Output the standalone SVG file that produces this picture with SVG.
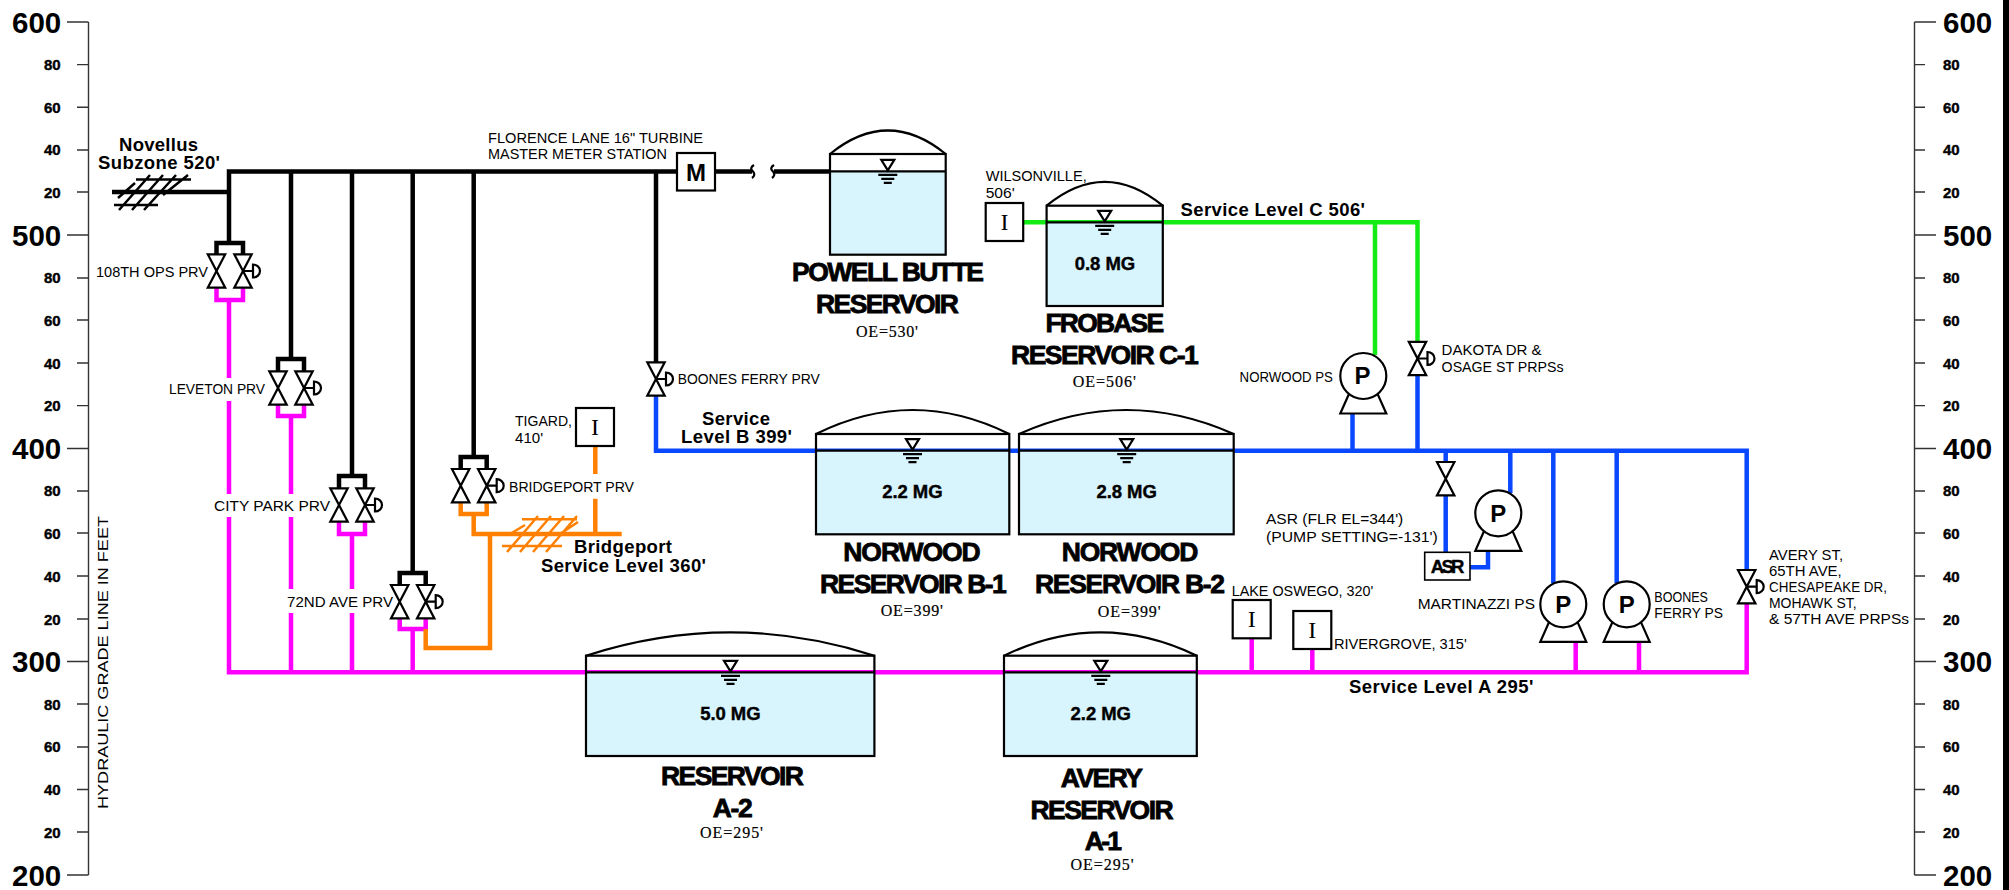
<svg xmlns="http://www.w3.org/2000/svg" width="2009" height="890" viewBox="0 0 2009 890">
<style>
text{font-family:"Liberation Sans",Arial,sans-serif;fill:#000}
.l{font-size:15px}
.h{font-size:18.5px;font-weight:bold}
.mg{font-size:18.5px;font-weight:bold;stroke:#000;stroke-width:.4px}
.n{font-size:26.5px;font-weight:bold;stroke:#000;stroke-width:.8px}
.oe{font-family:"Liberation Serif",serif;font-size:16px;stroke:#000;stroke-width:.2px}
.big{font-size:29.5px;font-weight:bold}
.sm{font-size:15px;font-weight:bold;stroke:#000;stroke-width:.4px}
.iglyph{font-family:"Liberation Serif",serif;font-size:24px;text-anchor:middle}
.p{font-size:24px;font-weight:bold;text-anchor:middle}
.pipe{fill:none;stroke-width:4.5;stroke-linejoin:miter}
.k{stroke:#000}.m{stroke:#ff00ff}.o{stroke:#ff8000}.g{stroke:#14ea14}.b{stroke:#0a48ff}
.hatch{fill:none;stroke-width:2.5}
.ax{fill:none;stroke:#333;stroke-width:1.4}
.sym{fill:#fff;stroke:#000;stroke-width:2.2;stroke-linejoin:miter}
.thin{fill:none;stroke:#000;stroke-width:2.2}
.water{fill:#d8f4fd;stroke:none}
</style>
<defs>
<g id="valve"><path class="sym" d="M-8.7,-16.7H8.7L-8.7,16.7H8.7Z"/></g>
<g id="act"><path class="thin" d="M0,0H10M10,-6.5A7,6.5 0 0 1 10,6.5Z"/></g>
<g id="pump"><path class="sym" d="M-13,15L-23,37.5H23L13,15Z"/><circle class="sym" r="23"/></g>
<g id="wl"><path class="sym" d="M-6.5,-11.5H6.5L0,-1Z"/><path class="thin" d="M-9.5,3.500H9.500M-6.500,7.500H6.500M-4,11.500H4"/></g>
</defs>
<rect width="2009" height="890" fill="#fff"/>
<rect x="2003" y="0" width="6" height="890" fill="#000"/>

<g id="axis-left">
<path class="ax" d="M88.500,22V875M67,22H88.500M77,64.600H88.500M77,107.200H88.500M77,150H88.500M77,192H88.500M67,235H88.500M77,278H88.500M77,320H88.500M77,363H88.500M77,405.600H88.500M67,448.500H88.500M77,491H88.500M77,533H88.500M77,576H88.500M77,619H88.500M67,661.500H88.500M77,704H88.500M77,747H88.500M77,789.500H88.500M77,832H88.500M67,875H88.500"/>
<text class="big" x="12" y="33">600</text><text class="big" x="12" y="246">500</text><text class="big" x="12" y="459">400</text><text class="big" x="12" y="672">300</text><text class="big" x="12" y="886">200</text>
<text class="sm" x="44" y="70">80</text><text class="sm" x="44" y="113">60</text><text class="sm" x="44" y="155">40</text><text class="sm" x="44" y="198">20</text>
<text class="sm" x="44" y="283">80</text><text class="sm" x="44" y="326">60</text><text class="sm" x="44" y="369">40</text><text class="sm" x="44" y="411">20</text>
<text class="sm" x="44" y="496">80</text><text class="sm" x="44" y="539">60</text><text class="sm" x="44" y="582">40</text><text class="sm" x="44" y="625">20</text>
<text class="sm" x="44" y="710">80</text><text class="sm" x="44" y="752">60</text><text class="sm" x="44" y="795">40</text><text class="sm" x="44" y="838">20</text>
<text class="l" transform="translate(108,809) rotate(-90)" textLength="293" lengthAdjust="spacingAndGlyphs">HYDRAULIC GRADE LINE IN FEET</text>
</g>
<g id="axis-right">
<path class="ax" d="M1914.500,22V875M1914.500,22H1936M1914.500,64.600H1925M1914.500,107.200H1925M1914.500,150H1925M1914.500,192H1925M1914.500,235H1936M1914.500,278H1925M1914.500,320H1925M1914.500,363H1925M1914.500,405.600H1925M1914.500,448.500H1936M1914.500,491H1925M1914.500,533H1925M1914.500,576H1925M1914.500,619H1925M1914.500,661.500H1936M1914.500,704H1925M1914.500,747H1925M1914.500,789.500H1925M1914.500,832H1925M1914.500,875H1936"/>
<text class="big" x="1943" y="33">600</text><text class="big" x="1943" y="246">500</text><text class="big" x="1943" y="459">400</text><text class="big" x="1943" y="672">300</text><text class="big" x="1943" y="886">200</text>
<text class="sm" x="1943" y="70">80</text><text class="sm" x="1943" y="113">60</text><text class="sm" x="1943" y="155">40</text><text class="sm" x="1943" y="198">20</text>
<text class="sm" x="1943" y="283">80</text><text class="sm" x="1943" y="326">60</text><text class="sm" x="1943" y="369">40</text><text class="sm" x="1943" y="411">20</text>
<text class="sm" x="1943" y="496">80</text><text class="sm" x="1943" y="539">60</text><text class="sm" x="1943" y="582">40</text><text class="sm" x="1943" y="625">20</text>
<text class="sm" x="1943" y="710">80</text><text class="sm" x="1943" y="752">60</text><text class="sm" x="1943" y="795">40</text><text class="sm" x="1943" y="838">20</text>
</g>

<g id="connectors">
<path class="pipe k" d="M112,192H229M229,243V171.500H677M216.500,255V243H243V255M291,171.500V359M278,371V359H304V371M352,171.500V476M339,488V476H365V488M412.700,171.500V573M399.700,585V573H425.700V585M473.700,171.500V457M460.700,469V457H486.700V469M656,171.500V362M715,171.500H752M774,171.500H830"/>
<path class="thin" d="M754,165Q749,168 753,171.500Q756,175 752,178M774,165Q769,168 773,171.500Q776,175 772,178"/>
<path class="pipe m" d="M216.500,288V300H243V288M229,300V378M229,401V494M229,517V672.300H1746.700V603M278,405V416H304V405M291,416V494M291,517V589M291,613V672M339,522V534H365V522M352,534V589M352,613V672M399.700,618V629H425.700V618M412.700,629V672M1251.700,638V672M1312.300,649V672M1575.700,642V672M1639,642V672"/>
<path class="pipe o" d="M460.700,502V514H486.700V502M473.700,514V534H621.700M490,534V648H425.700V629M595.300,534V498.700M595.300,474V446"/>
<path class="pipe g" d="M1023,222.300H1417.500V342M1375,222.300V355"/>
<path class="pipe b" d="M656,395V450.700H1746.700V570M1352.500,414V451M1417.500,375V451M1445.700,451V462M1445.700,496V552M1510.300,451V493M1553.300,451V583M1616.700,451V583M1488,551V567.300H1470"/>
<path class="hatch k" d="M136,179.500H191M114,205H158M119,210L150,175M132,210L163,175M144,210L176,175M163,195L188,175M118,198L135,183"/>
<path class="hatch o" d="M522,519.300H577M502,546H562M507,552L538,516M520,552L551,516M533,552L564,516M546,552L577,516M510,534L525,525M560,534L578,522"/>
</g>

<g id="prv-108th"><use href="#valve" x="216.500" y="271"/><use href="#valve" x="243" y="271"/><use href="#act" x="243" y="271"/><text class="l" x="96" y="276.700" textLength="112" lengthAdjust="spacingAndGlyphs">108TH OPS PRV</text></g>
<g id="prv-leveton"><use href="#valve" x="278" y="388"/><use href="#valve" x="304" y="388"/><use href="#act" x="304" y="388"/><text class="l" x="169" y="394" textLength="96" lengthAdjust="spacingAndGlyphs">LEVETON PRV</text></g>
<g id="prv-citypark"><use href="#valve" x="339" y="505"/><use href="#valve" x="365" y="505"/><use href="#act" x="365" y="505"/><text class="l" x="214" y="511" textLength="116" lengthAdjust="spacingAndGlyphs">CITY PARK PRV</text></g>
<g id="prv-72nd"><use href="#valve" x="399.700" y="601.700"/><use href="#valve" x="425.700" y="601.700"/><use href="#act" x="425.700" y="601.700"/><text class="l" x="287" y="607" textLength="106" lengthAdjust="spacingAndGlyphs">72ND AVE PRV</text></g>
<g id="prv-bridgeport"><use href="#valve" x="460.700" y="485.700"/><use href="#valve" x="486.700" y="485.700"/><use href="#act" x="486.700" y="485.700"/><text class="l" x="509" y="492" textLength="125" lengthAdjust="spacingAndGlyphs">BRIDGEPORT PRV</text></g>
<g id="prv-boones"><use href="#valve" x="656" y="379"/><use href="#act" x="656" y="379"/><text class="l" x="677.700" y="384" textLength="142" lengthAdjust="spacingAndGlyphs">BOONES FERRY PRV</text></g>
<g id="prv-dakota"><use href="#valve" x="1417.500" y="358.500"/><use href="#act" x="1417.500" y="358.500"/><text class="l" x="1441.600" y="355" textLength="100" lengthAdjust="spacingAndGlyphs">DAKOTA DR &amp;</text><text class="l" x="1441.600" y="371.700" textLength="122" lengthAdjust="spacingAndGlyphs">OSAGE ST PRPSs</text></g>
<g id="prv-avery"><use href="#valve" x="1746.700" y="586.700"/><use href="#act" x="1746.700" y="586.700"/>
<text class="l" x="1769" y="560" textLength="74" lengthAdjust="spacingAndGlyphs">AVERY ST,</text><text class="l" x="1769" y="576" textLength="72.700" lengthAdjust="spacingAndGlyphs">65TH AVE,</text><text class="l" x="1769" y="592" textLength="118" lengthAdjust="spacingAndGlyphs">CHESAPEAKE DR,</text><text class="l" x="1769" y="608" textLength="87.700" lengthAdjust="spacingAndGlyphs">MOHAWK ST,</text><text class="l" x="1769" y="624" textLength="140" lengthAdjust="spacingAndGlyphs">&amp; 57TH AVE PRPSs</text></g>
<g id="asr-valve"><use href="#valve" x="1445.700" y="478.700"/></g>

<g id="label-novellus"><text class="h" x="119" y="150.700" textLength="79" lengthAdjust="spacing">Novellus</text><text class="h" x="98" y="169" textLength="122" lengthAdjust="spacing">Subzone 520'</text></g>
<g id="label-florence"><text class="l" x="488" y="142.700" textLength="215" lengthAdjust="spacingAndGlyphs">FLORENCE LANE 16" TURBINE</text><text class="l" x="488" y="159" textLength="179" lengthAdjust="spacingAndGlyphs">MASTER METER STATION</text></g>
<g id="label-sl-b"><text class="h" x="702" y="425" textLength="68" lengthAdjust="spacing">Service</text><text class="h" x="681" y="443" textLength="111" lengthAdjust="spacing">Level B 399'</text></g>
<g id="label-sl-c"><text class="h" x="1180.600" y="215.700" textLength="184.400" lengthAdjust="spacing">Service Level C 506'</text></g>
<g id="label-sl-a"><text class="h" x="1349" y="692.700" textLength="184.300" lengthAdjust="spacing">Service Level A 295'</text></g>
<g id="label-sl-360"><text class="h" x="574" y="553.300" textLength="98" lengthAdjust="spacing">Bridgeport</text><text class="h" x="541" y="572.300" textLength="165" lengthAdjust="spacing">Service Level 360'</text></g>

<g id="meter"><rect class="sym" x="677" y="153" width="38" height="37.500"/><text class="p" x="696" y="180.700">M</text></g>

<g id="gauge-tigard"><rect class="sym" x="576" y="408" width="38" height="38"/><text class="iglyph" x="595" y="435">I</text><text class="l" x="515" y="425.700" textLength="57" lengthAdjust="spacingAndGlyphs">TIGARD,</text><text class="l" x="515" y="443" textLength="28" lengthAdjust="spacingAndGlyphs">410'</text></g>
<g id="gauge-wilsonville"><rect class="sym" x="985.700" y="203" width="37.500" height="38"/><text class="iglyph" x="1004.500" y="230">I</text><text class="l" x="985.700" y="180.700" textLength="101" lengthAdjust="spacingAndGlyphs">WILSONVILLE,</text><text class="l" x="985.700" y="198" textLength="29" lengthAdjust="spacingAndGlyphs">506'</text></g>
<g id="gauge-lake-oswego"><rect class="sym" x="1232.700" y="600" width="38" height="38.300"/><text class="iglyph" x="1251.700" y="627">I</text><text class="l" x="1231.700" y="596" textLength="141.600" lengthAdjust="spacingAndGlyphs">LAKE OSWEGO, 320'</text></g>
<g id="gauge-rivergrove"><rect class="sym" x="1293.300" y="611" width="38" height="38"/><text class="iglyph" x="1312.300" y="638">I</text><text class="l" x="1334" y="648.700" textLength="132.700" lengthAdjust="spacingAndGlyphs">RIVERGROVE, 315'</text></g>

<g id="res-powell"><rect class="water" x="830" y="171.300" width="115.700" height="83.400"/><path class="thin" d="M830,154Q887.800,107 945.700,154"/><rect class="thin" x="830" y="154" width="115.700" height="100.700"/><path class="thin" d="M830,171.300H945.700"/><use href="#wl" x="887.800" y="171.300"/>
<text class="n" x="792" y="280.700" textLength="192" lengthAdjust="spacing">POWELL BUTTE</text><text class="n" x="816" y="312.700" textLength="143" lengthAdjust="spacing">RESERVOIR</text><text class="oe" x="856" y="336.700" textLength="62" lengthAdjust="spacing">OE=530'</text></g>
<g id="res-frobase"><rect class="water" x="1046.600" y="222.300" width="116.200" height="83.700"/><path class="thin" d="M1046.600,205.700Q1104.700,158 1162.800,205.700"/><rect class="thin" x="1046.600" y="205.700" width="116.200" height="100.300"/><path class="thin" d="M1046.600,222.300H1162.800"/><use href="#wl" x="1104.700" y="222.300"/>
<text class="mg" x="1074.700" y="270" textLength="60.500" lengthAdjust="spacing">0.8 MG</text><text class="n" x="1045.500" y="332.300" textLength="118.600" lengthAdjust="spacing">FROBASE</text><text class="n" x="1011" y="364.300" textLength="187.800" lengthAdjust="spacing">RESERVOIR C-1</text><text class="oe" x="1072.700" y="387.300" textLength="63.300" lengthAdjust="spacing">OE=506'</text></g>
<g id="res-b1"><rect class="water" x="816" y="450.700" width="193.300" height="83.600"/><path class="thin" d="M816,434Q912.600,386 1009.300,434"/><rect class="thin" x="816" y="434" width="193.300" height="100.300"/><path class="thin" d="M816,450.700H1009.300"/><use href="#wl" x="912.500" y="450.700"/>
<text class="mg" x="882.300" y="498" textLength="60.300" lengthAdjust="spacing">2.2 MG</text><text class="n" x="843.300" y="560.700" textLength="137.300" lengthAdjust="spacing">NORWOOD</text><text class="n" x="820" y="592.700" textLength="186.700" lengthAdjust="spacing">RESERVOIR B-1</text><text class="oe" x="880.700" y="616" textLength="62.300" lengthAdjust="spacing">OE=399'</text></g>
<g id="res-b2"><rect class="water" x="1019" y="450.700" width="214.700" height="83.600"/><path class="thin" d="M1019,434Q1126.300,386 1233.700,434"/><rect class="thin" x="1019" y="434" width="214.700" height="100.300"/><path class="thin" d="M1019,450.700H1233.700"/><use href="#wl" x="1126.700" y="450.700"/>
<text class="mg" x="1096.500" y="498" textLength="60.300" lengthAdjust="spacing">2.8 MG</text><text class="n" x="1061.700" y="561" textLength="136.700" lengthAdjust="spacing">NORWOOD</text><text class="n" x="1035" y="593" textLength="190" lengthAdjust="spacing">RESERVOIR B-2</text><text class="oe" x="1097.700" y="617" textLength="63" lengthAdjust="spacing">OE=399'</text></g>
<g id="res-a2"><rect class="water" x="586" y="672.300" width="288.400" height="83.700"/><path class="thin" d="M586,655.700Q730.200,609 874.400,655.700"/><rect class="thin" x="586" y="655.700" width="288.400" height="100.300"/><path class="thin" d="M586,672.300H874.400"/><use href="#wl" x="730.500" y="672.300"/>
<text class="mg" x="700.300" y="720" textLength="60.300" lengthAdjust="spacing">5.0 MG</text><text class="n" x="661" y="785" textLength="143" lengthAdjust="spacing">RESERVOIR</text><text class="n" x="712.800" y="816.700" textLength="40" lengthAdjust="spacing">A-2</text><text class="oe" x="700" y="837.700" textLength="63" lengthAdjust="spacing">OE=295'</text></g>
<g id="res-a1"><rect class="water" x="1004" y="672.300" width="192.800" height="83.700"/><path class="thin" d="M1004,655.700Q1100.400,609 1196.800,655.700"/><rect class="thin" x="1004" y="655.700" width="192.800" height="100.300"/><path class="thin" d="M1004,672.300H1196.800"/><use href="#wl" x="1100.800" y="672.300"/>
<text class="mg" x="1070.600" y="720" textLength="60.300" lengthAdjust="spacing">2.2 MG</text><text class="n" x="1060.800" y="786.700" textLength="82.200" lengthAdjust="spacing">AVERY</text><text class="n" x="1030.500" y="819" textLength="143.100" lengthAdjust="spacing">RESERVOIR</text><text class="n" x="1084.800" y="850" textLength="37.100" lengthAdjust="spacing">A-1</text><text class="oe" x="1070.500" y="870" textLength="63.200" lengthAdjust="spacing">OE=295'</text></g>

<g id="pump-norwood"><use href="#pump" x="1363.300" y="376"/><text class="p" x="1362.500" y="384">P</text><text class="l" x="1239.600" y="381.700" textLength="93.300" lengthAdjust="spacingAndGlyphs">NORWOOD PS</text></g>
<g id="pump-asr"><use href="#pump" x="1498.300" y="513.300"/><text class="p" x="1498.300" y="521.500">P</text></g>
<g id="asr"><rect class="sym" x="1424.700" y="552.300" width="45.300" height="27.700" style="stroke-width:1.6"/><text class="h" x="1430.700" y="572.700" textLength="33.700" lengthAdjust="spacing" style="stroke:#000;stroke-width:.4px">ASR</text><text class="l" x="1266" y="524.300" textLength="137.300" lengthAdjust="spacingAndGlyphs">ASR (FLR EL=344')</text><text class="l" x="1266" y="542.300" textLength="171.700" lengthAdjust="spacingAndGlyphs">(PUMP SETTING=-131')</text></g>
<g id="pump-martinazzi"><use href="#pump" x="1563.300" y="604.300"/><text class="p" x="1563.300" y="612.500">P</text><text class="l" x="1417.700" y="609.300" textLength="117.300" lengthAdjust="spacingAndGlyphs">MARTINAZZI PS</text></g>
<g id="pump-boones"><use href="#pump" x="1626.700" y="604.300"/><text class="p" x="1626.700" y="612.500">P</text><text class="l" x="1654.300" y="601.700" textLength="53.700" lengthAdjust="spacingAndGlyphs">BOONES</text><text class="l" x="1654.300" y="617.700" textLength="68.700" lengthAdjust="spacingAndGlyphs">FERRY PS</text></g>
</svg>
